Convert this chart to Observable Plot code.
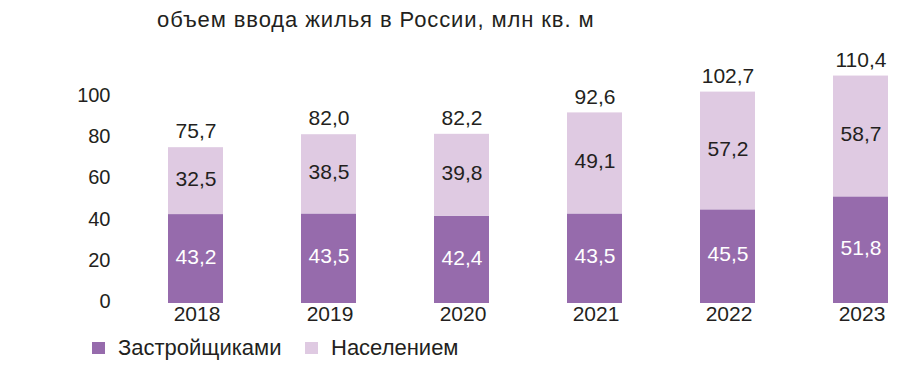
<!DOCTYPE html>
<html>
<head>
<meta charset="utf-8">
<script src="https://cdn.jsdelivr.net/npm/d3@7"></script>
<script src="https://cdn.jsdelivr.net/npm/@observablehq/plot@0.6"></script>
<style>
  html, body { margin: 0; padding: 0; background: #fff; }
  body { width: 918px; height: 368px; position: relative; overflow: hidden;
         font-family: "Liberation Sans", Arial, Helvetica, sans-serif; color: #231f20; }
  #title { height: 40px; line-height: 40px; padding-left: 157px; font-size: 22px; letter-spacing: 0.9px; white-space: nowrap; }
  #chart svg { display: block; overflow: visible; }
  #legend { position: absolute; left: 0; top: 333px; height: 30px; width: 918px; font-size: 22px; }
  .item { position: absolute; top: 0; height: 30px; line-height: 30px; white-space: nowrap; }
  .sw { display: inline-block; width: 13px; height: 12px; vertical-align: middle; margin-right: 13px; position: relative; top: -1px; }
</style>
</head>
<body>
<div id="title">объем ввода жилья в России, млн кв. м</div>
<div id="chart"></div>
<div id="legend"></div>
<script>
const years = ["2018", "2019", "2020", "2021", "2022", "2023"];
const seriesNames = ["Застройщиками", "Населением"];
const developers = [43.2, 43.5, 42.4, 43.5, 45.5, 51.8];
const population = [32.5, 38.5, 39.8, 49.1, 57.2, 58.7];
const totals = [75.7, 82.0, 82.2, 92.6, 102.7, 110.4];
const yTicks = [0, 20, 40, 60, 80, 100];
const colors = ["#966bac", "#dfcae2"];
const textColors = ["#ffffff", "#231f20"];

const fmt = v => v.toFixed(1).replace(".", ",");

const data = [];
years.forEach((yr, i) => {
  data.push({year: yr, series: seriesNames[0], value: developers[i]});
  data.push({year: yr, series: seriesNames[1], value: population[i]});
});
const totalData = years.map((yr, i) => ({year: yr, total: totals[i]}));

const chart = Plot.plot({
  width: 918,
  height: 295,
  marginLeft: 120,
  marginRight: 0,
  marginTop: 16,
  marginBottom: 32,
  style: {fontFamily: '"Liberation Sans", Arial, Helvetica, sans-serif', fontSize: "20px", color: "#231f20", background: "transparent"},
  x: {domain: years, paddingInner: 0.587, paddingOuter: 0.289, align: 0.61, label: null},
  y: {domain: [0, 120], label: null},
  color: {domain: seriesNames, range: colors},
  marks: [
    Plot.barY(data, {x: "year", y: "value", fill: "series", order: seriesNames}),
    Plot.text(data, Plot.stackY({
      x: "year", y: "value", order: seriesNames,
      text: d => fmt(d.value),
      fill: d => textColors[seriesNames.indexOf(d.series)],
      fontSize: 21, dy: -2
    })),
    Plot.text(totalData, {x: "year", y: "total", text: d => fmt(d.total), fontSize: 21, dy: -16, fill: "#231f20"}),
    Plot.axisY({ticks: yTicks, tickSize: 0, tickPadding: 10, label: null, fontSize: 20, dy: -2}),
    Plot.axisX({tickSize: 0, tickPadding: 3, label: null, fontSize: 21, dx: 1})
  ]
});
document.getElementById("chart").appendChild(chart);

const legend = document.getElementById("legend");
const legendLeft = [92, 305];
seriesNames.forEach((name, i) => {
  const item = document.createElement("div");
  item.className = "item";
  item.style.left = legendLeft[i] + "px";
  const sw = document.createElement("span");
  sw.className = "sw";
  sw.style.background = colors[i];
  item.appendChild(sw);
  item.appendChild(document.createTextNode(name));
  legend.appendChild(item);
});
</script>
</body>
</html>
